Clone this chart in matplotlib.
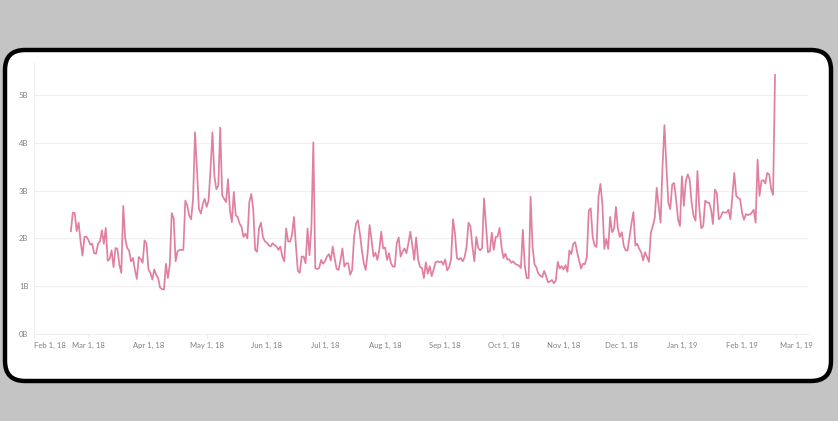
import matplotlib
matplotlib.use("Agg")
import matplotlib.pyplot as plt
from matplotlib.patches import FancyBboxPatch
import pandas as pd

plt.rcParams['font.family'] = ['Lato', 'DejaVu Sans']

# daily values, in billions, starting 2018-02-20
values = [
    2.15, 2.54, 2.53, 2.15, 2.33, 1.94, 1.64, 2.03, 2.04, 1.97,
    1.87, 1.89, 1.69, 1.68, 1.89, 1.94, 2.17, 1.89, 2.22, 1.53,
    1.57, 1.75, 1.40, 1.80, 1.78, 1.45, 1.28, 2.68, 2.01, 1.80,
    1.75, 1.52, 1.59, 1.35, 1.15, 1.61, 1.57, 1.49, 1.96, 1.89,
    1.35, 1.28, 1.14, 1.35, 1.24, 1.17, 0.97, 0.94, 0.93, 1.47,
    1.17, 1.45, 2.53, 2.42, 1.52, 1.73, 1.76, 1.76, 1.76,
    2.79, 2.69, 2.48, 2.40, 2.83, 4.22, 3.45, 2.62, 2.52, 2.72,
    2.83, 2.66, 2.79, 3.45, 4.22, 3.30, 3.03, 3.10, 4.32, 2.90,
    2.83, 2.76, 3.24, 2.59, 2.34, 2.97, 2.48, 2.45, 2.31, 2.24,
    2.03, 2.10, 2.00, 2.76, 2.93, 2.62, 1.76, 1.72, 2.21, 2.33,
    2.03, 1.94, 1.91, 1.86, 1.83, 1.90, 1.86, 1.83, 1.76, 1.83,
    1.62, 1.52, 2.21, 1.94, 1.93, 2.07, 2.45, 1.86, 1.32, 1.28,
    1.62,
    1.62, 1.48, 2.21, 1.65, 2.24, 4.01, 1.38, 1.36, 1.38, 1.55,
    1.47, 1.52, 1.62, 1.67, 1.54, 1.83, 1.58, 1.36, 1.34, 1.55,
    1.79, 1.41, 1.48, 1.48, 1.24, 1.34, 2.03, 2.31, 2.38, 2.10,
    1.76, 1.48, 1.34, 1.70, 2.28, 1.97, 1.62, 1.70, 1.55, 1.76,
    2.14, 1.79, 1.81, 1.55, 1.69, 1.48, 1.41, 1.41, 1.90, 2.02,
    1.62, 1.72, 1.79, 1.69, 1.90, 2.14, 1.86, 1.55, 2.02,
    1.56, 1.40, 1.38, 1.17, 1.50, 1.26, 1.42, 1.21, 1.35, 1.50,
    1.52, 1.50, 1.52, 1.45, 1.56, 1.33, 1.40, 1.56, 2.40, 2.11,
    1.59, 1.56, 1.59, 1.52, 1.61, 1.83, 2.33, 2.25, 1.83, 1.52,
    2.03, 1.80, 1.75, 1.80, 2.84, 2.28, 1.71, 1.73, 2.12, 1.76,
    2.03, 2.04, 2.22, 1.83, 1.59, 1.68, 1.56, 1.56, 1.49, 1.52,
    1.47, 1.45, 1.43, 1.38, 2.18, 1.42, 1.17, 1.17, 2.87, 1.83,
    1.46, 1.39, 1.26, 1.22, 1.19, 1.32, 1.21, 1.08, 1.10, 1.13,
    1.06, 1.12, 1.51, 1.37, 1.42, 1.35, 1.44, 1.30, 1.75, 1.67,
    1.89, 1.92, 1.71, 1.54, 1.37, 1.47, 1.46, 1.61, 2.59, 2.63,
    2.03, 1.85, 1.82, 2.87, 3.14, 2.72, 1.78, 1.99, 1.78, 2.45,
    2.13, 2.20, 2.66, 2.20, 2.03, 2.13, 1.85, 1.75, 1.75, 2.03,
    2.31, 2.55, 1.85, 1.89, 1.78, 1.71, 1.54, 1.71, 1.61, 1.51,
    2.12, 2.26, 2.43, 3.06, 2.68, 2.33, 3.51, 4.37, 3.51, 2.75,
    2.61, 3.13, 3.16, 2.82, 2.40, 2.26, 3.30, 2.68, 3.20, 3.34,
    3.23, 2.75, 2.47, 2.37, 3.41, 2.61, 2.21, 2.26, 2.79, 2.75,
    2.75, 2.61, 2.30, 3.02, 2.95, 2.40, 2.45, 2.55, 2.54, 2.54,
    2.60, 2.40, 2.89, 3.37, 2.89, 2.85, 2.82, 2.54, 2.39, 2.51,
    2.49, 2.50, 2.54, 2.60, 2.33, 3.65, 2.89, 3.20, 3.22, 3.15,
    3.37, 3.34, 3.03, 2.91, 5.42,
]
dates = pd.date_range('2018-02-20', periods=len(values), freq='D')

tick_dates = pd.date_range('2018-02-01', '2019-03-01', freq='MS')
tick_labels = [d.strftime('%b ') + str(d.day) + d.strftime(', %y') for d in tick_dates]
y_ticks = [0, 1, 2, 3, 4, 5]
y_labels = [f'{v}B' for v in y_ticks]

fig = plt.figure(figsize=(8.38, 4.21), dpi=100)
fig.patch.set_facecolor('#c4c4c4')

# white card with black rounded border
card = FancyBboxPatch((0.05, 0.40), 8.26, 3.31,
                      boxstyle='round,pad=0,rounding_size=0.2',
                      transform=fig.dpi_scale_trans,
                      facecolor='white', edgecolor='black', linewidth=3.2,
                      zorder=-1)
fig.patches.append(card)

ax = fig.add_axes([34 / 838, 87 / 421, 774 / 838, 271 / 421])
ax.set_zorder(2)
ax.set_facecolor('none')
ax.plot(dates, values, color='#e07fa1', linewidth=1.25)

ax.set_ylim(0, 5.67)
ax.set_xlim(pd.Timestamp('2018-02-01'), pd.Timestamp('2019-03-07'))
ax.set_yticks(y_ticks)
ax.set_yticklabels(y_labels)
ax.set_xticks(tick_dates)
ax.set_xticklabels(tick_labels)
ax.xaxis.get_ticklabels()[0].set_horizontalalignment('left')

ax.grid(axis='y', color='#efefef', linewidth=0.8)
for s in ['top', 'right']:
    ax.spines[s].set_visible(False)
ax.spines['left'].set_color('#f0f0f0')
ax.spines['bottom'].set_color('#f0f0f0')
ax.spines['left'].set_linewidth(0.8)
ax.spines['bottom'].set_linewidth(0.8)
ax.tick_params(axis='y', length=0, labelsize=5.5, labelcolor='#808080', pad=4)
ax.tick_params(axis='x', length=3, color='#eeeeee', labelsize=5.5,
               labelcolor='#808080', pad=2.5)

fig.savefig('out.png', dpi=100, facecolor=fig.get_facecolor())
